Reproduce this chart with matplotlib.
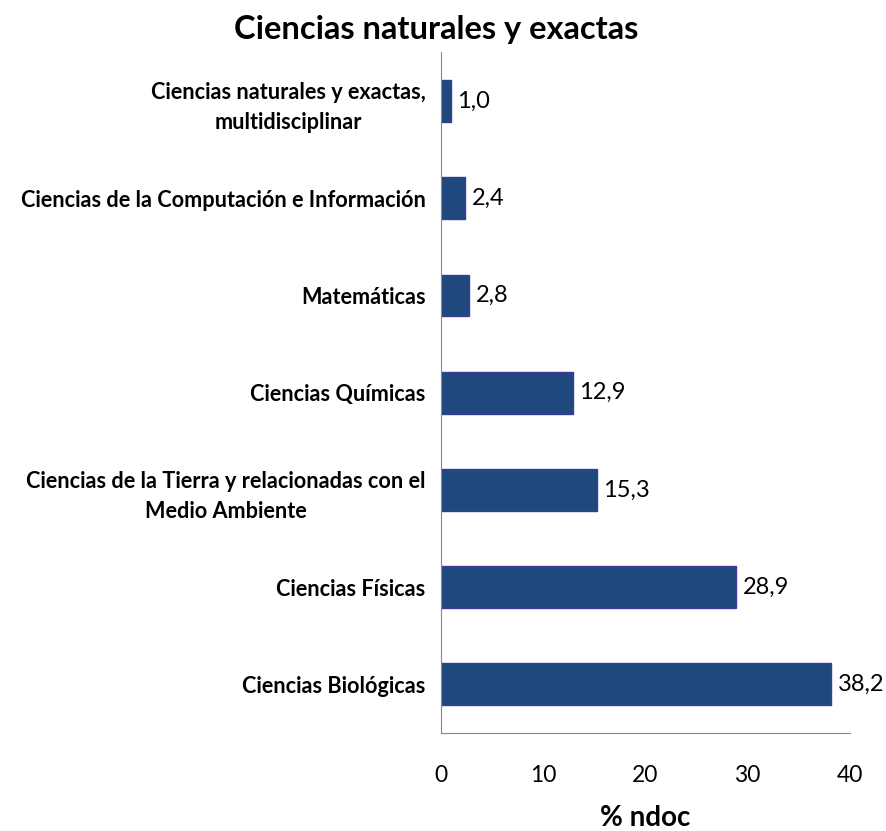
import matplotlib.pyplot as plt

categorias = [
    "Ciencias Biológicas",
    "Ciencias Físicas",
    "Ciencias de la Tierra y relacionadas con el\nMedio Ambiente",
    "Ciencias Químicas",
    "Matemáticas",
    "Ciencias de la Computación e Información",
    "Ciencias naturales y exactas,\nmultidisciplinar",
]
valores = [38.2, 28.9, 15.3, 12.9, 2.8, 2.4, 1.0]
xticks = [0, 10, 20, 30, 40]

plt.rcParams['font.family'] = ['Lato', 'DejaVu Sans']

fig = plt.figure(figsize=(8.87, 8.31), dpi=100)
ax = fig.add_axes([0.497, 0.118, 0.461, 0.819])

pos = list(range(len(categorias)))
ax.barh(pos, valores, height=0.43, color='#1F497D', edgecolor='#3B3B9E', linewidth=1)

for p, v in zip(pos, valores):
    ax.text(v + 0.6, p, f"{v:.1f}".replace('.', ','), va='center', ha='left', fontsize=17)

ax.set_ylim(-0.5, len(categorias) - 0.5)
ax.set_xlim(0, 40)
ax.set_xticks(xticks)
ax.set_xticklabels([str(t) for t in xticks], fontsize=16.5)
ax.set_yticks(pos)
ax.set_yticklabels(categorias, fontsize=15.6, fontweight='bold', linespacing=1.55,
                   multialignment='center')
ax.tick_params(length=0, pad=11)
ax.tick_params(axis='x', pad=23)

for s in ['top', 'right']:
    ax.spines[s].set_visible(False)
for s in ['left', 'bottom']:
    ax.spines[s].set_color('#888888')

ax.set_xlabel('% ndoc', fontsize=20, fontweight='bold', labelpad=14)
fig.suptitle('Ciencias naturales y exactas', fontsize=23.5, fontweight='bold', x=0.492, y=0.982)

fig.savefig('out.png')
